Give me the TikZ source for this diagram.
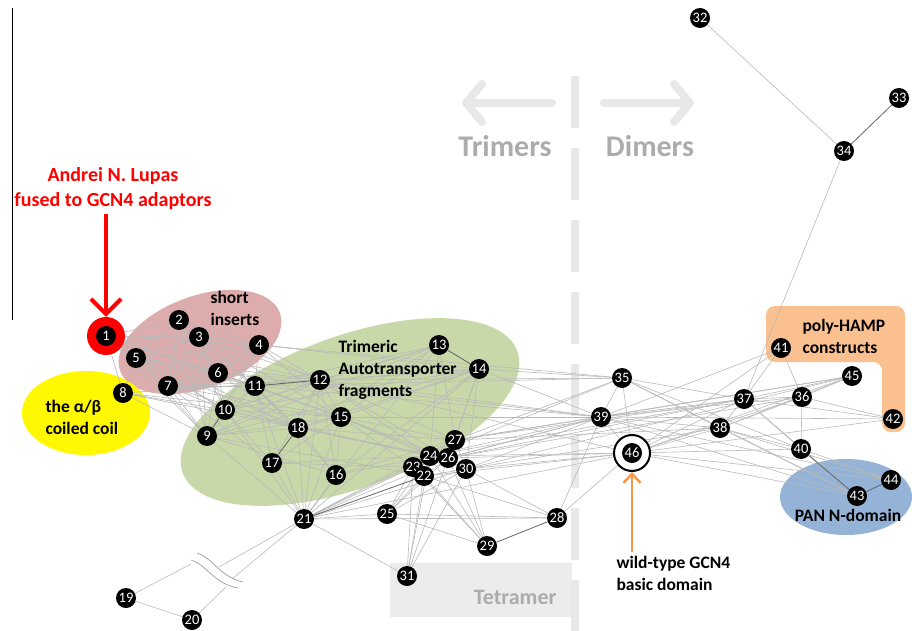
\documentclass[tikz,border=0pt]{standalone}
\usepackage{fontspec}
\setmainfont{Carlito}
\usepackage{tikz}
\usetikzlibrary{arrows.meta}

\definecolor{pinkfill}{RGB}{221,172,172}
\definecolor{greenfill}{RGB}{200,216,168}
\definecolor{yellowfill}{RGB}{255,248,0}
\definecolor{bluefill}{RGB}{149,179,215}
\definecolor{orangefill}{RGB}{250,192,143}
\definecolor{orangeline}{RGB}{247,150,70}
\definecolor{lightline}{RGB}{185,185,185}
\definecolor{darkline}{RGB}{100,100,100}
\definecolor{sidegray}{RGB}{232,232,232}
\definecolor{textgray}{RGB}{172,172,172}
\definecolor{boxgray}{RGB}{236,236,236}

\pgfdeclarelayer{background}
\pgfsetlayers{background,main}

\begin{document}
\begin{tikzpicture}[x=1pt, y=-1pt,
  num/.style={circle, fill=black, text=white, inner sep=0pt, minimum size=20pt,
    font=\fontsize{14.5}{14.5}\selectfont},
  link/.style={draw=lightline, line width=0.6pt},
  strong/.style={draw=darkline, line width=0.8pt},
  tag/.style={font=\fontsize{17.5}{22}\selectfont\bfseries, align=left},
  side/.style={font=\fontsize{30}{30}\selectfont\bfseries, text=textgray},
  cutmark/.style={draw=gray!70, line width=0.8pt}]

  \useasboundingbox (0,0) rectangle (912,631);

  % rings
  \node[circle, fill=red, minimum size=38pt] (ring1) at (106,336) {};
  \node[circle, draw=black, fill=white, line width=2pt, minimum size=36pt] (ring46) at (632,453) {};

  % nodes
  \node[num] (n1) at (106,336) {1};
  \node[num] (n2) at (179,320) {2};
  \node[num] (n3) at (199,337) {3};
  \node[num] (n4) at (259,345) {4};
  \node[num] (n5) at (136,358) {5};
  \node[num] (n6) at (218,373) {6};
  \node[num] (n7) at (168,386) {7};
  \node[num] (n8) at (123,393) {8};
  \node[num] (n9) at (207,436) {9};
  \node[num] (n10) at (225,410) {10};
  \node[num] (n11) at (255,386) {11};
  \node[num] (n12) at (320,380) {12};
  \node[num] (n13) at (439,345) {13};
  \node[num] (n14) at (479,369) {14};
  \node[num] (n15) at (341,417) {15};
  \node[num] (n16) at (336,475) {16};
  \node[num] (n17) at (272,463) {17};
  \node[num] (n18) at (298,428) {18};
  \node[num] (n19) at (126,598) {19};
  \node[num] (n20) at (192,620) {20};
  \node[num] (n21) at (304,519) {21};
  \node[num] (n27) at (455,440) {27};
  \node[num] (n24) at (430,456) {24};
  \node[num] (n26) at (448,458) {26};
  \node[num] (n23) at (413,467) {23};
  \node[num] (n22) at (424,476) {22};
  \node[num] (n25) at (387,514) {25};
  \node[num] (n28) at (557,518) {28};
  \node[num] (n29) at (487,546) {29};
  \node[num] (n30) at (466,469) {30};
  \node[num] (n31) at (407,576) {31};
  \node[num] (n32) at (700,18) {32};
  \node[num] (n33) at (899,98) {33};
  \node[num] (n34) at (844,151) {34};
  \node[num] (n35) at (622,378) {35};
  \node[num] (n36) at (802,397) {36};
  \node[num] (n37) at (744,399) {37};
  \node[num] (n38) at (720,428) {38};
  \node[num] (n39) at (601,417) {39};
  \node[num] (n40) at (801,449) {40};
  \node[num] (n41) at (781,348) {41};
  \node[num] (n42) at (893,419) {42};
  \node[num] (n43) at (857,496) {43};
  \node[num] (n44) at (891,480) {44};
  \node[num] (n45) at (852,376) {45};
  \node[num] (n46) at (632,453) {46};

  \begin{pgfonlayer}{background}
  % groups
  \fill[greenfill, rotate around={20:(350,412)}] (350,412) ellipse [x radius=178, y radius=76];
  \fill[pinkfill, rotate around={20:(200,342)}] (200,342) ellipse [x radius=85, y radius=46];
  \fill[yellowfill] (86,413) ellipse [x radius=64, y radius=42];
  \fill[bluefill] (846,497) ellipse [x radius=66, y radius=38];
  \fill[orangefill, rounded corners=9pt] (766,306) -- (905,306) -- (905,432)
    -- (882,432) -- (882,362) -- (766,362) -- cycle;
  \fill[boxgray] (390,563) rectangle (572,617);

  % trimer / dimer border
  \draw[sidegray, line width=8pt, dash pattern=on 52pt off 20pt] (575,76) -- (575,631);
  \draw[sidegray, line width=8pt, line cap=round, -{Straight Barb[length=16pt, width=38pt, round]}]
    (552,103) -- (462,103);
  \draw[sidegray, line width=8pt, line cap=round, -{Straight Barb[length=16pt, width=38pt, round]}]
    (604,103) -- (694,103);

  % links
  \path[link]
    (n1) edge (n2) edge (n3) edge (n4) edge (n5) edge (n6) edge (n7) edge (n8)
         edge (n9) edge (n10) edge (n11) edge (n12) edge (n15) edge (n18)
    (n2) edge (n3) edge (n4) edge (n5) edge (n6) edge (n7) edge (n9) edge (n10)
         edge (n11) edge (n12)
    (n3) edge (n4) edge (n5) edge (n6) edge (n7) edge (n9) edge (n10) edge (n11)
         edge (n12) edge (n15) edge (n18)
    (n4) edge (n5) edge (n6) edge (n7) edge (n9) edge (n10) edge (n11) edge (n12)
         edge (n14) edge (n15) edge (n35)
    (n5) edge (n6) edge (n7) edge (n8) edge (n9) edge (n10) edge (n11) edge (n12)
         edge (n18)
    (n6) edge (n7) edge (n9) edge (n10) edge (n11) edge (n12) edge (n15) edge (n18)
         edge (n39)
    (n7) edge (n9) edge (n10) edge (n11) edge (n12) edge (n15) edge (n17) edge (n18)
    (n8) edge (n9) edge (n10) edge (n12) edge (n15) edge (n18)
    (n9) edge (n11) edge (n12) edge (n13) edge (n14) edge (n15) edge (n16)
         edge (n18) edge (n21) edge (n22)
    (n10) edge (n11) edge (n12) edge (n13) edge (n14) edge (n15) edge (n17)
          edge (n18) edge (n21) edge (n24)
    (n11) edge (n13) edge (n14) edge (n15) edge (n16) edge (n17) edge (n18)
          edge (n21) edge (n35) edge (n39)
    (n12) edge (n13) edge (n14) edge (n15) edge (n16) edge (n17) edge (n18)
          edge (n21) edge (n24) edge (n26) edge (n27) edge (n35) edge (n39) edge (n46)
    (n13) edge (n15) edge (n18) edge (n21) edge (n24) edge (n27)
    (n14) edge (n15) edge (n16) edge (n18) edge (n21) edge (n26) edge (n27)
          edge (n30) edge (n35) edge (n39)
    (n15) edge (n16) edge (n17) edge (n18) edge (n21) edge (n23) edge (n24)
          edge (n26) edge (n27) edge (n30) edge (n39)
    (n16) edge (n18) edge (n21) edge (n24) edge (n27)
    (n17) edge (n21) edge (n23) edge (n24)
    (n18) edge (n21) edge (n24) edge (n26) edge (n27)
    (n21) edge (n23) edge (n24) edge (n25) edge (n26) edge (n27) edge (n28)
          edge (n30) edge (n31) edge (n46)
    (n22) edge (n23) edge (n24) edge (n25) edge (n26) edge (n28) edge (n29)
          edge (n30) edge (n31) edge (n46)
    (n23) edge (n24) edge (n25) edge (n26) edge (n29) edge (n31) edge (n39)
    (n24) edge (n25) edge (n26) edge (n27) edge (n29) edge (n31) edge (n35)
          edge (n37) edge (n39) edge (n46)
    (n25) edge (n26) edge (n28) edge (n29) edge (n30)
    (n26) edge (n27) edge (n29) edge (n30) edge (n31) edge (n36) edge (n37)
          edge (n39) edge (n46)
    (n27) edge (n30) edge (n35) edge (n37) edge (n38) edge (n39) edge (n45)
    (n28) edge (n30) edge (n39) edge (n46)
    (n29) edge (n30)
    (n30) edge (n31) edge (n38) edge (n39) edge (n45) edge (n46)
    (n34) edge (n32) edge (n37)
    (n35) edge (n37) edge (n38) edge (n39) edge (n40) edge (n43) edge (n46)
    (n39) edge (n36) edge (n37) edge (n38) edge (n41) edge (n42) edge (n43)
          edge (n44) edge (n45) edge (n46)
    (n46) edge (n36) edge (n37) edge (n38) edge (n40) edge (n41) edge (n42)
          edge (n43) edge (n44) edge (n45)
    (n38) edge (n36) edge (n37) edge (n40) edge (n43) edge (n44) edge (n45)
    (n37) edge (n36) edge (n40) edge (n41) edge (n42) edge (n43) edge (n45)
    (n36) edge (n40) edge (n41) edge (n42) edge (n45)
    (n40) edge (n44)
    (n19) edge (n20);
  \path[strong]
    (n9) edge (n10)
    (n11) edge (n12)
    (n13) edge (n14)
    (n17) edge (n18)
    (n21) edge (n22)
    (n28) edge (n29)
    (n33) edge (n34)
    (n40) edge (n43)
    (n43) edge (n44);

  % broken links to 19 and 20
  \coordinate (cut19a) at (191,564);
  \coordinate (cut19b) at (219,567);
  \coordinate (cut20a) at (226,587);
  \coordinate (cut20b) at (232,579);
  \path[link]
    (n19) edge (cut19a)
    (cut19b) edge (n21)
    (n20) edge (cut20a)
    (cut20b) edge (n21);
  \draw[cutmark] (197,553) .. controls (212,557) and (220,577) .. (243,582);
  \draw[cutmark] (191,560) .. controls (206,564) and (214,584) .. (238,588);
  \end{pgfonlayer}

  % labels
  \node[side] (trimers) at (505,146) {Trimers};
  \node[side] (dimers) at (650,146) {Dimers};
  \node[font=\fontsize{22}{22}\selectfont\bfseries, text=textgray, anchor=east] (tetra) at (560,597) {Tetramer};
  \draw[black, line width=0.8pt] (12,8) -- (12,320);

  \node[font=\fontsize{20}{25}\selectfont\bfseries, text=red, align=center] (lupas) at (113,189)
    {Andrei N. Lupas\\fused to GCN4 adaptors};
  \node[tag, anchor=west] (inserts) at (207,308) {short\\inserts};
  \node[tag, anchor=west] (autotr) at (335,370) {Trimeric\\Autotransporter\\fragments};
  \node[tag, anchor=west] (alphabeta) at (42,417) {the α/β\\coiled coil};
  \node[tag, anchor=west] (hamp) at (799,336) {poly-HAMP\\constructs};
  \node[tag] (pan) at (848,515) {PAN N-domain};
  \node[tag, anchor=west] (wild) at (613,573) {wild-type GCN4\\basic domain};

  \draw[red, line width=4pt, -{Straight Barb[length=15pt, width=30pt]}]
    (ring1.north |- lupas.south) -- (ring1.north);
  \draw[orangeline, line width=2.5pt, -{Straight Barb[length=9pt, width=17pt]}]
    (ring46.south |- wild.north) -- (ring46.south);
\end{tikzpicture}
\end{document}
